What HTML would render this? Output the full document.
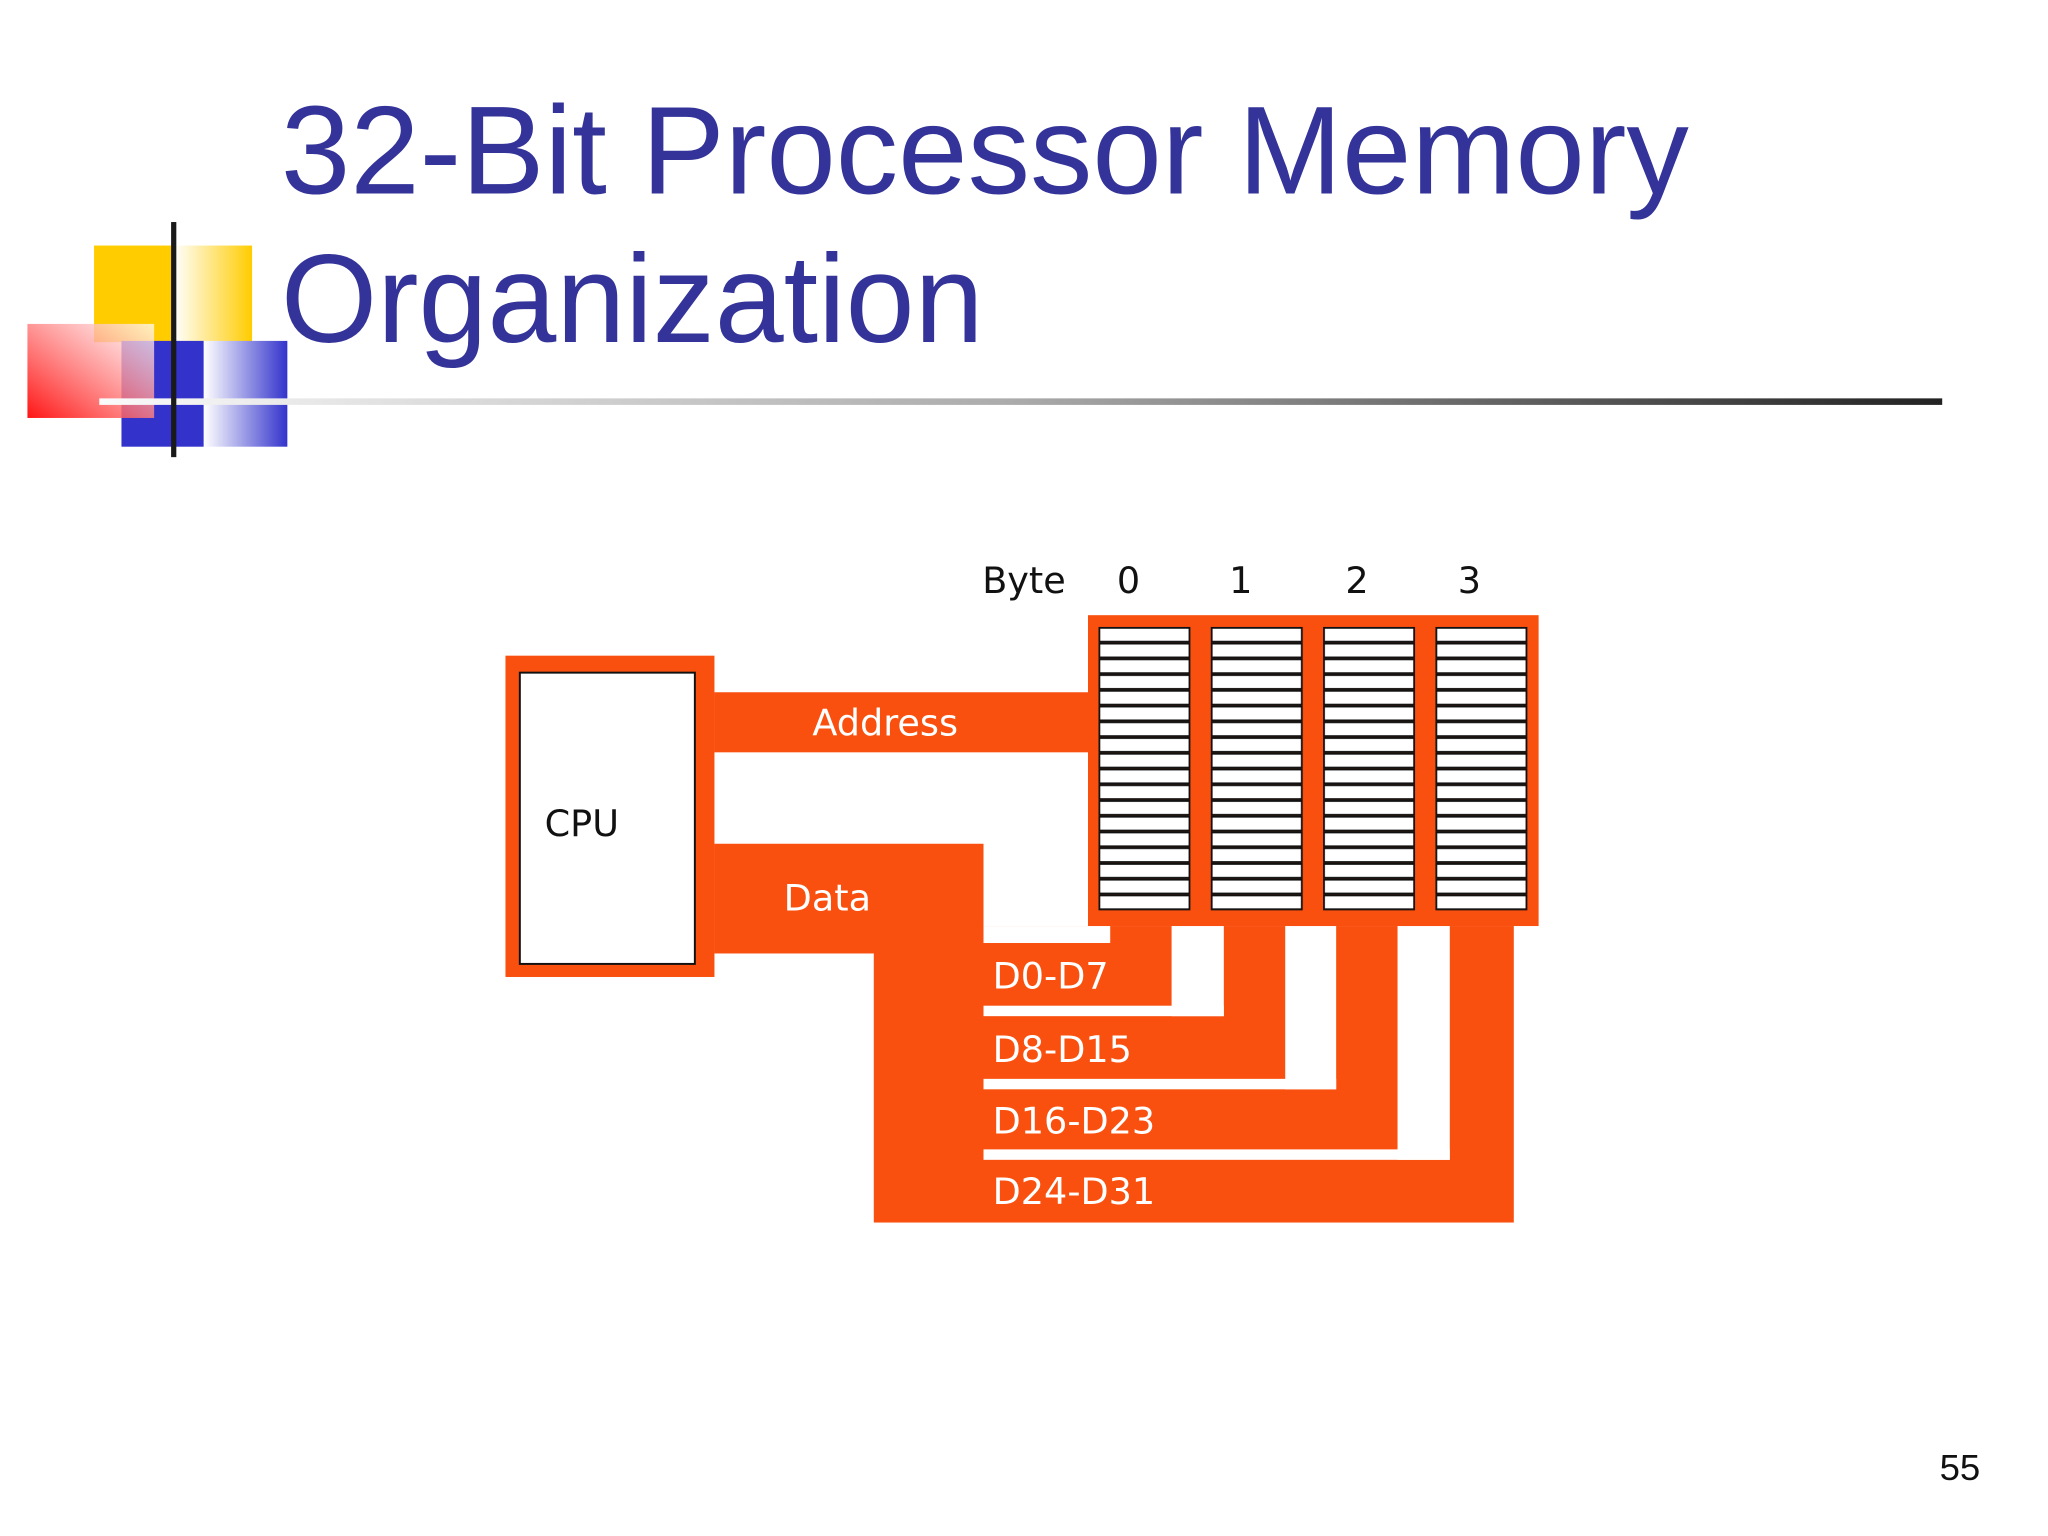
<!DOCTYPE html>
<html><head><meta charset="utf-8"><style>html,body{margin:0;padding:0;background:#fff}svg{display:block}</style></head>
<body>
<svg width="2048" height="1536" viewBox="0 0 1568 1176" xmlns="http://www.w3.org/2000/svg">
<defs>
<linearGradient id="yg" x1="0" x2="1" y1="0" y2="0"><stop offset="0" stop-color="#fff"/><stop offset="1" stop-color="#FFCC00"/></linearGradient>
<linearGradient id="bg" x1="0" x2="1" y1="0" y2="0"><stop offset="0" stop-color="#fff"/><stop offset="1" stop-color="#3333CC"/></linearGradient>
<linearGradient id="rg" x1="0" x2="1" y1="1" y2="0"><stop offset="0" stop-color="#FF0000"/><stop offset="1" stop-color="#fff" stop-opacity="0.8"/></linearGradient>
<linearGradient id="lg" x1="0" x2="1" y1="0" y2="0"><stop offset="0" stop-color="#fafafa"/><stop offset="0.5" stop-color="#aaa"/><stop offset="1" stop-color="#222"/></linearGradient>
<pattern id="rows" patternUnits="userSpaceOnUse" x="841" y="480" width="86" height="12.05">
<rect x="0.7" y="0.7" width="69" height="10.6" fill="#fff" stroke="#111" stroke-width="1.4"/>
</pattern>
</defs>
<!-- logo -->
<rect x="72" y="188" width="61" height="74" fill="#FFCC00"/>
<rect x="133" y="188" width="60" height="74" fill="url(#yg)"/>
<rect x="93" y="261" width="63" height="81" fill="#3333CC"/>
<rect x="156" y="261" width="64" height="81" fill="url(#bg)"/>
<rect x="21" y="248" width="97" height="72" fill="url(#rg)" opacity="0.92"/>
<rect x="76" y="305" width="1411" height="5" fill="url(#lg)"/>
<rect x="131" y="170" width="4" height="180" fill="#1a1a1a"/>
<!-- title -->
<g font-family="Liberation Sans, sans-serif" fill="#333399" font-size="96">
<text x="215" y="148" textLength="1078" lengthAdjust="spacingAndGlyphs">32-Bit Processor Memory</text>
<text x="215" y="262" textLength="538" lengthAdjust="spacingAndGlyphs">Organization</text>
</g>
<!-- diagram -->
<g fill="#F9500F">
<rect x="387" y="502" width="160" height="246"/>
<rect x="547" y="530" width="290" height="46"/>
<rect x="833" y="471" width="345" height="238"/>
<rect x="547" y="646" width="206" height="84"/>
<rect x="669" y="709" width="490" height="227"/>
</g>
<g fill="#fff">
<rect x="753" y="709" width="97" height="13"/>
<rect x="897" y="709" width="40" height="69"/>
<rect x="753" y="770" width="184" height="8"/>
<rect x="984" y="709" width="39" height="125"/>
<rect x="753" y="826" width="270" height="8"/>
<rect x="1070" y="709" width="40" height="179"/>
<rect x="753" y="880" width="357" height="8"/>
</g>
<rect x="398" y="515" width="134" height="223" fill="#fff" stroke="#111" stroke-width="1.5"/>
<rect x="841" y="480" width="330" height="217" fill="url(#rows)"/>
<g font-family="DejaVu Sans, Liberation Sans, sans-serif" font-size="28">
<text x="752" y="454" fill="#111">Byte</text>
<text x="864" y="454" fill="#111" text-anchor="middle">0</text>
<text x="950" y="454" fill="#111" text-anchor="middle">1</text>
<text x="1039" y="454" fill="#111" text-anchor="middle">2</text>
<text x="1125" y="454" fill="#111" text-anchor="middle">3</text>
<text x="417" y="640" fill="#111">CPU</text>
<g fill="#fff">
<text x="622" y="563">Address</text>
<text x="600" y="697">Data</text>
<text x="760" y="757">D0-D7</text>
<text x="760" y="813">D8-D15</text>
<text x="760" y="868">D16-D23</text>
<text x="760" y="922">D24-D31</text>
</g>
</g>
<text x="1485" y="1133" font-family="Liberation Sans, sans-serif" font-size="28" fill="#111">55</text>
</svg>
</body></html>
